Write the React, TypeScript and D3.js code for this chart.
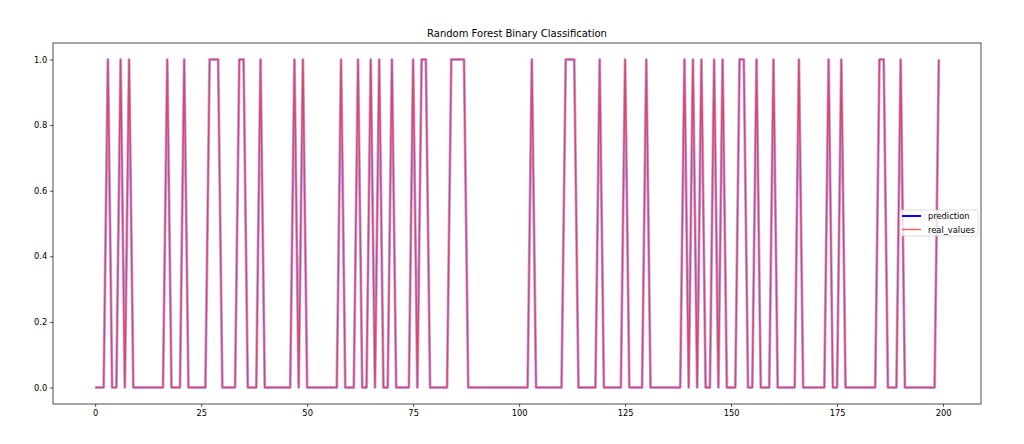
import React, { useEffect, useRef } from 'react';
import * as d3 from 'd3';

// binary series, index 0..199
const realValues = [
  0, 0, 0, 1, 0, 0, 1, 0, 1, 0, 0, 0, 0, 0, 0, 0, 0, 1, 0, 0,
  0, 1, 0, 0, 0, 0, 0, 1, 1, 1, 0, 0, 0, 0, 1, 1, 0, 0, 0, 1,
  0, 0, 0, 0, 0, 0, 0, 1, 0, 1, 0, 0, 0, 0, 0, 0, 0, 0, 1, 0,
  0, 0, 1, 0, 0, 1, 0, 1, 0, 0, 1, 0, 0, 0, 0, 1, 0, 1, 1, 0,
  0, 0, 0, 0, 1, 1, 1, 1, 0, 0, 0, 0, 0, 0, 0, 0, 0, 0, 0, 0,
  0, 0, 0, 1, 0, 0, 0, 0, 0, 0, 0, 1, 1, 1, 0, 0, 0, 0, 0, 1,
  0, 0, 0, 0, 0, 1, 0, 0, 0, 0, 1, 0, 0, 0, 0, 0, 0, 0, 0, 1,
  0, 1, 0, 1, 0, 0, 1, 0, 1, 0, 0, 0, 1, 1, 0, 0, 1, 0, 0, 0,
  1, 0, 0, 0, 0, 0, 1, 0, 0, 0, 0, 0, 0, 1, 0, 0, 1, 0, 0, 0,
  0, 0, 0, 0, 0, 1, 1, 0, 0, 0, 1, 0, 0, 0, 0, 0, 0, 0, 0, 1
];

const prediction = [
  0, 0, 0, 1, 0, 0, 1, 0, 1, 0, 0, 0, 0, 0, 0, 0, 0, 1, 0, 0,
  0, 1, 0, 0, 0, 0, 0, 1, 1, 1, 0, 0, 0, 0, 1, 1, 0, 0, 0, 1,
  0, 0, 0, 0, 0, 0, 0, 1, 0, 1, 0, 0, 0, 0, 0, 0, 0, 0, 1, 0,
  0, 0, 1, 0, 0, 1, 0, 1, 0, 0, 1, 0, 0, 0, 0, 1, 0, 1, 1, 0,
  0, 0, 0, 0, 1, 1, 1, 1, 0, 0, 0, 0, 0, 0, 0, 0, 0, 0, 0, 0,
  0, 0, 0, 1, 0, 0, 0, 0, 0, 0, 0, 1, 1, 1, 0, 0, 0, 0, 0, 1,
  0, 0, 0, 0, 0, 1, 0, 0, 0, 0, 1, 0, 0, 0, 0, 0, 0, 0, 0, 1,
  0, 1, 0, 1, 0, 0, 1, 0, 1, 0, 0, 0, 1, 1, 0, 0, 1, 0, 0, 0,
  1, 0, 0, 0, 0, 0, 1, 0, 0, 0, 0, 0, 0, 1, 0, 0, 1, 0, 0, 0,
  0, 0, 0, 0, 0, 1, 1, 0, 0, 0, 1, 0, 0, 0, 0, 0, 0, 0, 0, 1
];

const xTicks = [0, 25, 50, 75, 100, 125, 150, 175, 200];
const yTicks = [0.0, 0.2, 0.4, 0.6, 0.8, 1.0];
const legendItems = ['prediction', 'real_values'];

const App: React.FC = () => {
  const svgRef = useRef<SVGSVGElement>(null);

  useEffect(() => {
    if (!svgRef.current) return;
    const svg = d3.select(svgRef.current);
    svg.selectAll('*').remove();

    const width = 1024;
    const height = 444;
    const margin = { top: 43, right: 43, bottom: 40, left: 53 };
    const innerWidth = width - margin.left - margin.right;
    const innerHeight = height - margin.top - margin.bottom;
    const font = 'DejaVu Sans, sans-serif';
    const tickFont = 8.3;

    const n = realValues.length;
    const pad = (n - 1) * 0.05;
    const x = d3.scaleLinear().domain([-pad, n - 1 + pad]).range([0, innerWidth]);
    const y = d3.scaleLinear().domain([-0.05, 1.05]).range([innerHeight, 0]);

    svg.append('rect').attr('width', width).attr('height', height).attr('fill', '#fff');

    const g = svg.append('g').attr('transform', `translate(${margin.left},${margin.top})`);

    // Lines
    const line = d3.line<number>()
      .x((d, i) => x(i))
      .y(d => y(d));

    g.append('path')
      .datum(prediction)
      .attr('fill', 'none')
      .attr('stroke', '#0000ff')
      .attr('stroke-width', 3)
      .attr('stroke-opacity', 0.3)
      .attr('stroke-linejoin', 'round')
      .attr('d', line);

    g.append('path')
      .datum(realValues)
      .attr('fill', 'none')
      .attr('stroke', '#ff0000')
      .attr('stroke-width', 1.5)
      .attr('stroke-opacity', 0.6)
      .attr('stroke-linejoin', 'round')
      .attr('d', line);

    // Axes
    const xAxis = d3.axisBottom(x).tickValues(xTicks).tickSize(2.9).tickPadding(2.9).tickFormat(d3.format('d'));
    const yAxis = d3.axisLeft(y).tickValues(yTicks).tickSize(2.9).tickPadding(2.9).tickFormat(d3.format('.1f'));

    const gx = g.append('g').attr('transform', `translate(0,${innerHeight})`).call(xAxis);
    const gy = g.append('g').call(yAxis);
    [gx, gy].forEach(ax => {
      ax.select('.domain').remove();
      ax.selectAll('line').attr('stroke', '#000').attr('stroke-width', 0.7);
      ax.selectAll('text').attr('font-family', font).attr('font-size', tickFont).attr('fill', '#000');
    });

    // Frame
    g.append('rect')
      .attr('width', innerWidth)
      .attr('height', innerHeight)
      .attr('fill', 'none')
      .attr('stroke', '#000')
      .attr('stroke-width', 0.7);

    // Title
    svg.append('text')
      .attr('x', margin.left + innerWidth / 2)
      .attr('y', 37)
      .attr('text-anchor', 'middle')
      .attr('font-family', font)
      .attr('font-size', 10)
      .attr('fill', '#000')
      .text('Random Forest Binary Classification');

    // Legend
    const lg = svg.append('g').attr('transform', 'translate(900,210)');
    lg.append('rect')
      .attr('width', 78)
      .attr('height', 26)
      .attr('rx', 2)
      .attr('fill', '#fff')
      .attr('fill-opacity', 0.8)
      .attr('stroke', '#ccc')
      .attr('stroke-width', 0.7);
    legendItems.forEach((name, i) => {
      const yy = 6 + i * 13.5;
      lg.append('line')
        .attr('x1', 2).attr('x2', 21)
        .attr('y1', yy).attr('y2', yy)
        .attr('stroke', i === 0 ? '#0000ff' : '#ff0000')
        .attr('stroke-opacity', i === 0 ? 1 : 0.6)
        .attr('stroke-width', i === 0 ? 2 : 1.5);
      lg.append('text')
        .attr('x', 28)
        .attr('y', yy + 3)
        .attr('font-family', font)
        .attr('font-size', tickFont)
        .attr('fill', '#000')
        .text(name);
    });
  }, []);

  return (
    <svg
      ref={svgRef}
      width={1024}
      height={444}
      style={{ position: 'absolute', left: 0, top: 0 }}
    />
  );
};

export default App;
